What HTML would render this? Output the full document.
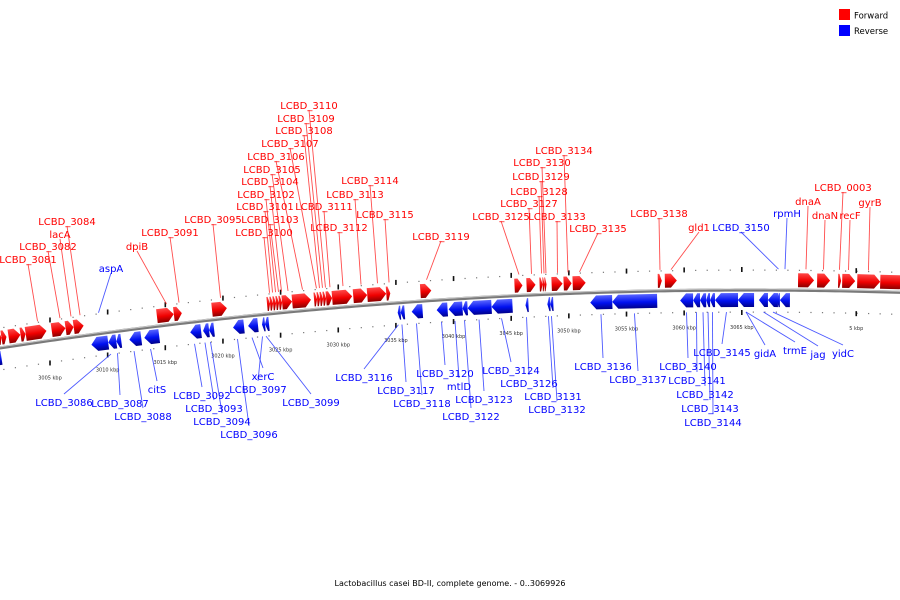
<!DOCTYPE html>
<html><head><meta charset="utf-8"><style>
html,body{margin:0;padding:0;background:#fff;}
svg{display:block;font-family:"DejaVu Sans","Liberation Sans",sans-serif;}
</style></head><body>
<svg id="chart" width="900" height="600" viewBox="0 0 900 600" xmlns="http://www.w3.org/2000/svg">
<defs>
<linearGradient id="gf" x1="0" y1="0" x2="0" y2="1"><stop offset="0" stop-color="#ff4a4a"/><stop offset="0.55" stop-color="#f00000"/><stop offset="1" stop-color="#8a0000"/></linearGradient>
<linearGradient id="gr" x1="0" y1="0" x2="0" y2="1"><stop offset="0" stop-color="#5a66ff"/><stop offset="0.55" stop-color="#0010f0"/><stop offset="1" stop-color="#00008a"/></linearGradient>
</defs>
<g id="ticks"></g>
<g id="backbone"></g>
<g id="lines"></g>
<g id="genes"></g>
<g id="labels"></g>
<g>
<rect x="839" y="9" width="11" height="11" fill="#f00"/>
<text x="854" y="18.5" font-size="8.5" fill="#000">Forward</text>
<rect x="839" y="25" width="11" height="11" fill="#00f"/>
<text x="854" y="34" font-size="8.5" fill="#000">Reverse</text>
</g>
<text x="450" y="586" font-size="8" text-anchor="middle" fill="#000">Lactobacillus casei BD-II, complete genome. - 0..3069926</text>
</svg>
<script>
// gene data (kbp, linear coordinate; >3069.926 wraps past origin)
const geneNames = ["","","","","LCBD_3081","LCBD_3082","lacA","LCBD_3084","dpiB","LCBD_3091","LCBD_3095",
"LCBD_3100","LCBD_3101","LCBD_3102","LCBD_3103","LCBD_3104","LCBD_3105","LCBD_3106","LCBD_3107","LCBD_3108","LCBD_3109","LCBD_3110","LCBD_3111","LCBD_3112","LCBD_3113","LCBD_3114","LCBD_3115","LCBD_3119",
"LCBD_3125","LCBD_3127","LCBD_3128","LCBD_3129","LCBD_3130","LCBD_3133","LCBD_3134","LCBD_3135","LCBD_3138","gld1",
"dnaA","dnaN","LCBD_0003","recF","gyrB","",
"","aspA","LCBD_3086","LCBD_3087","LCBD_3088","citS","LCBD_3092","LCBD_3093","LCBD_3094","LCBD_3096","xerC","LCBD_3097","LCBD_3099",
"LCBD_3116","LCBD_3117","LCBD_3118","LCBD_3120","mtlD","LCBD_3122","LCBD_3123","LCBD_3124","LCBD_3126","LCBD_3131","LCBD_3132",
"LCBD_3136","LCBD_3137","LCBD_3140","LCBD_3141","LCBD_3142","LCBD_3143","LCBD_3144","LCBD_3145","gidA","trmE","jag","yidC","LCBD_3150","rpmH"];
const geneStart = [3000.66,3000.92,3001.53,3002.57,3003.01,3005.26,3006.47,3007.17,3014.37,3015.84,3019.14,
3023.91,3024.17,3024.43,3024.69,3024.95,3025.21,3026.08,3027.98,3028.24,3028.50,3028.76,3029.02,3029.54,3031.37,3032.58,3034.23,3037.18,
3045.33,3046.37,3047.50,3047.76,3047.93,3048.54,3049.58,3050.36,3057.73,3058.34,
3069.87,3071.52,3073.34,3073.69,3074.99,3076.98,
3000.10,3008.47,3009.94,3010.64,3011.77,3013.07,3017.06,3018.18,3018.70,3020.78,3022.09,3023.30,3023.56,
3035.09,3035.35,3036.31,3038.48,3039.52,3040.73,3041.17,3043.25,3046.20,3048.10,3048.36,
3051.83,3053.74,3059.64,3060.77,3061.37,3061.90,3062.24,3062.67,3064.67,3064.67,3066.49,3067.27,3068.05,3068.31];
const geneEnd = [3000.92,3001.36,3002.57,3003.01,3004.83,3006.47,3007.17,3008.04,3015.84,3016.54,3020.44,
3024.17,3024.43,3024.69,3024.95,3025.21,3026.08,3027.72,3028.24,3028.50,3028.76,3029.02,3029.54,3031.28,3032.58,3034.23,3034.58,3038.13,
3046.02,3047.15,3047.76,3047.93,3048.10,3049.49,3050.27,3051.49,3058.08,3059.38,
3071.26,3072.65,3073.60,3074.82,3076.98,3079.20,
3000.66,3009.94,3010.64,3011.07,3012.81,3014.37,3018.01,3018.70,3019.14,3021.74,3022.95,3023.56,3023.91,
3035.35,3035.70,3037.26,3039.43,3040.73,3041.17,3043.25,3045.07,3046.46,3048.36,3048.62,
3053.74,3057.64,3060.77,3061.37,3061.90,3062.24,3062.67,3064.67,3066.06,3066.06,3067.27,3068.14,3068.31,3069.18];
const geneStrand = [1,1,1,1,1,1,1,1,1,1,1, 1,1,1,1,1,1,1,1,1,1,1,1,1,1,1,1,1, 1,1,1,1,1,1,1,1,1,1, 1,1,1,1,1,1,
-1,-1,-1,-1,-1,-1,-1,-1,-1,-1,-1,-1,-1, -1,-1,-1,-1,-1,-1,-1,-1,-1,-1,-1, -1,-1,-1,-1,-1,-1,-1,-1,-1,-1,-1,-1,-1,-1];
// label placement (layout)
const labelPos = {
"LCBD_3081":[28,259],"LCBD_3082":[48,246],"lacA":[60,234],"LCBD_3084":[67,221],"aspA":[111,268],"dpiB":[137,246],"LCBD_3091":[170,232],"LCBD_3095":[213,219],
"LCBD_3100":[264,232],"LCBD_3103":[270,219],"LCBD_3101":[265,206],"LCBD_3102":[266,194],"LCBD_3104":[270,181],"LCBD_3105":[272,169],"LCBD_3106":[276,156],"LCBD_3107":[290,143],"LCBD_3108":[304,130],"LCBD_3109":[306,118],"LCBD_3110":[309,105],
"LCBD_3111":[324,206],"LCBD_3112":[339,227],"LCBD_3113":[355,194],"LCBD_3114":[370,180],"LCBD_3115":[385,214],"LCBD_3119":[441,236],
"LCBD_3125":[501,216],"LCBD_3127":[529,203],"LCBD_3128":[539,191],"LCBD_3129":[541,176],"LCBD_3130":[542,162],"LCBD_3134":[564,150],"LCBD_3133":[557,216],"LCBD_3135":[598,228],
"LCBD_3138":[659,213],"gld1":[699,227],"LCBD_3150":[741,227],"rpmH":[787,213],"dnaA":[808,201],"dnaN":[825,215],"LCBD_0003":[843,187],"recF":[850,215],"gyrB":[870,202],
"LCBD_3086":[64,402],"LCBD_3087":[120,403],"LCBD_3088":[143,416],"citS":[157,389],"LCBD_3092":[202,395],"LCBD_3093":[214,408],"LCBD_3094":[222,421],"LCBD_3096":[249,434],"xerC":[263,376],"LCBD_3097":[258,389],"LCBD_3099":[311,402],
"LCBD_3116":[364,377],"LCBD_3117":[406,390],"LCBD_3118":[422,403],"LCBD_3120":[445,373],"mtlD":[459,386],"LCBD_3123":[484,399],"LCBD_3122":[471,416],"LCBD_3124":[511,370],"LCBD_3126":[529,383],"LCBD_3131":[553,396],"LCBD_3132":[557,409],
"LCBD_3136":[603,366],"LCBD_3137":[638,379],"LCBD_3140":[688,366],"LCBD_3141":[697,380],"LCBD_3142":[705,394],"LCBD_3143":[710,408],"LCBD_3144":[713,422],"LCBD_3145":[722,352],"gidA":[765,353],"trmE":[795,350],"jag":[818,354],"yidC":[843,353]};
const genomeLen = 3069.926;
const majorTicks = [3005,3010,3015,3020,3025,3030,3035,3040,3045,3050,3055,3060,3065,3074.926];
const majorTickLabels = ["3005 kbp","3010 kbp","3015 kbp","3020 kbp","3025 kbp","3030 kbp","3035 kbp","3040 kbp","3045 kbp","3050 kbp","3055 kbp","3060 kbp","3065 kbp","5 kbp"];

const NS="http://www.w3.org/2000/svg";
function xOf(k){return 50+(k-3005)*11.53;}
function yOf(x){return 290+1.03e-4*(x-750)*(x-750);}
function ang(x){return Math.atan(2*1.03e-4*(x-750))*180/Math.PI;}
function mk(tag,attrs,parent){const e=document.createElementNS(NS,tag);for(const k in attrs)e.setAttribute(k,attrs[k]);parent.appendChild(e);return e;}

const gT=document.getElementById('ticks'),gB=document.getElementById('backbone'),gL=document.getElementById('lines'),gG=document.getElementById('genes'),gX=document.getElementById('labels');

// backbone
let d="";for(let x=-5;x<=905;x+=5){d+=(x===-5?"M":"L")+x+","+yOf(x).toFixed(2)+" ";}
const bb=mk('path',{d:d,fill:'none',stroke:'#7a7a7a','stroke-width':3.2},gB);


const bb2=mk('path',{d:d,fill:'none',stroke:'#c8c8c8','stroke-width':1,transform:'translate(0,-1)'},gB);



// minor dots
for(let k=3000;k<=3080;k++){
  const x=xOf(k);if(x<-2||x>902)continue;const y=yOf(x);
  const a=mk('rect',{x:x-0.6,y:y-20.5,width:1.2,height:1.2,fill:'#777'},gT);
  
  
  const b=mk('rect',{x:x-0.6,y:y+21.5,width:1.2,height:1.2,fill:'#777'},gT);
  
  
}
majorTicks.forEach((k,i)=>{
  const x=xOf(k),y=yOf(x);
  const a=mk('rect',{x:x-0.8,y:y-23,width:1.6,height:5,fill:'#111'},gT);
  
  
  const b=mk('rect',{x:x-0.8,y:y+20,width:1.6,height:5,fill:'#111'},gT);
  
  
  const t=mk('text',{x:x,y:y+39,'font-size':5,'text-anchor':'middle',fill:'#333'},gT);
  t.textContent=majorTickLabels[i];
  
  
});

// genes
geneNames.forEach((nm,i)=>{
  const s=geneStrand[i],x0=xOf(geneStart[i]),x1=xOf(geneEnd[i]);
  const xc=(x0+x1)/2,w=Math.max(x1-x0,2),yc=yOf(xc),hw=w/2;
  const h=Math.min(6,w*0.6);
  let pts;
  if(s>0){const t=-17,b=-3,m=-10;pts=[[-hw,t],[hw-h,t],[hw,m],[hw-h,b],[-hw,b]];}
  else{const t=3,b=17,m=10;pts=[[hw,t],[-hw+h,t],[-hw,m],[-hw+h,b],[hw,b]];}
  const p=mk('polygon',{points:pts.map(q=>q[0].toFixed(2)+","+q[1]).join(" "),fill:s>0?'url(#gf)':'url(#gr)',transform:`translate(${xc.toFixed(2)},${yc.toFixed(2)}) rotate(${ang(xc).toFixed(3)})`},gG);
  
  
  if(nm&&labelPos[nm]){
    const [lx,ly]=labelPos[nm];const col=s>0?'#ff2020':'#2030ff';
    const above=ly<yc;
    const ax=xc,ay=above?yc-21:yc+22;
    const ex=lx,ey=above?ly+5:ly-8;
    const ln=mk('line',{x1:ax,y1:ay,x2:ex,y2:ey,stroke:col,'stroke-width':0.9,opacity:0.8},gL);
    
    
    const t=mk('text',{x:lx,y:ly+4,'font-size':10,'text-anchor':'middle',fill:s>0?'#f00':'#00f'},gX);
    t.textContent=nm;
    
    
  }
});
</script>
</body></html>
